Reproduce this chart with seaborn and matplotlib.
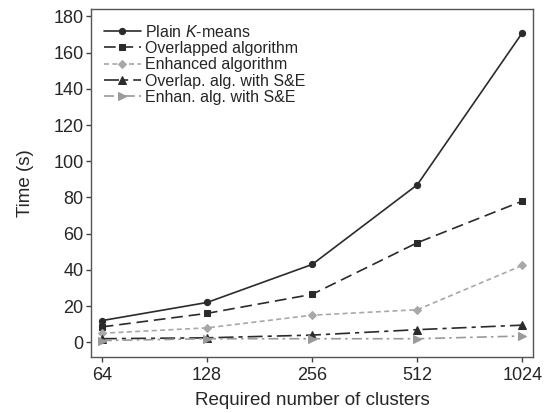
import matplotlib
matplotlib.use("Agg")
import matplotlib.pyplot as plt
import seaborn as sns
import pandas as pd

clusters = ["64", "128", "256", "512", "1024"]
plain_kmeans = [12, 22, 43, 87, 171]
overlapped = [8.5, 16, 26.5, 55, 78]
enhanced = [5, 8, 15, 18, 42.5]
overlap_se = [2, 2.5, 4, 7, 9.5]
enhan_se = [1, 2, 2, 2, 3.5]

labels = ["Plain $\\mathit{K}$-means", "Overlapped algorithm", "Enhanced algorithm",
          "Overlap. alg. with S&E", "Enhan. alg. with S&E"]
series = [plain_kmeans, overlapped, enhanced, overlap_se, enhan_se]
colors = ["#2b2b2b", "#2b2b2b", "#a8a8a8", "#2b2b2b", "#9a9a9a"]
markers = ["o", "s", "D", "^", ">"]
msizes = [4.5, 4.5, 4.5, 6, 6]
dashes = [(None, None), (7, 3.5), (3, 2), (9, 3, 2.5, 3), (6, 2.5, 1.5, 2.5)]

sns.set_style("ticks")
plt.rcParams["font.family"] = ["Liberation Sans", "DejaVu Sans"]
plt.rcParams["mathtext.fontset"] = "custom"
plt.rcParams["mathtext.it"] = "Liberation Sans:italic"
plt.rcParams["mathtext.rm"] = "Liberation Sans"

fig = plt.figure(figsize=(5.5, 4.13), dpi=100)
ax = fig.add_axes([0.166, 0.136, 0.803, 0.842])

for lab, vals, c, m, ms, d in zip(labels, series, colors, markers, msizes, dashes):
    df = pd.DataFrame({"x": range(len(clusters)), "y": vals})
    sns.lineplot(data=df, x="x", y="y", ax=ax, color=c, marker=m, markersize=ms,
                 markeredgecolor=c, markerfacecolor=c, linewidth=1.2, label=lab)
    ln = ax.lines[-1]
    if d[0] is not None:
        ln.set_dashes(d)

ax.set_xlim(-0.1, 4.1)
ax.set_ylim(-8, 184)
ax.set_xticks(range(len(clusters)))
ax.set_xticklabels(clusters)
ax.set_yticks(range(0, 181, 20))
ax.tick_params(labelsize=13, length=3.6, width=1, color="#444444")
ax.tick_params(axis="x", pad=3.5)
ax.tick_params(axis="y", pad=2)
ax.set_xlabel("Required number of clusters", fontsize=13.5, labelpad=6)
ax.set_ylabel("Time (s)", fontsize=13.5, labelpad=14)
for s in ax.spines.values():
    s.set_visible(True)
    s.set_color("#555555")
    s.set_linewidth(1)

ax.legend(loc="upper left", frameon=False, fontsize=11.5, handlelength=2.3,
          handletextpad=0.3, labelspacing=0.08, borderaxespad=0.3,
          bbox_to_anchor=(0.003, 0.99))

fig.savefig("out.png", dpi=100)
